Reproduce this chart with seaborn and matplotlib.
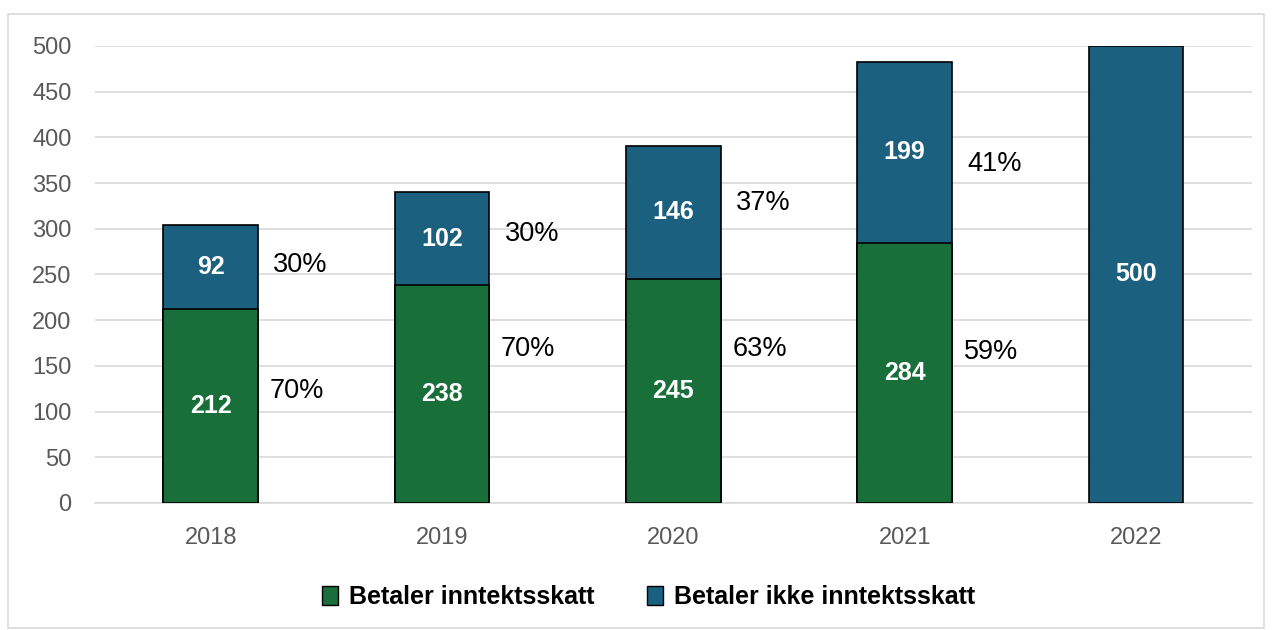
import matplotlib
matplotlib.use("Agg")
import matplotlib.pyplot as plt
import seaborn as sns
import pandas as pd
from matplotlib.patches import Rectangle, Patch

# Data
years = ["2018", "2019", "2020", "2021", "2022"]
betaler = [212, 238, 245, 284, 0]
betaler_ikke = [92, 102, 146, 199, 500]
# height (in data units) where the manual percentage labels sit
pct_y_betaler = [123, 168, 168, 165]
pct_y_ikke = [260, 294, 328, 371]

green = "#186f3a"
blue = "#1b607e"

sns.set_theme(style="white")
plt.rcParams["font.family"] = ["Liberation Sans", "DejaVu Sans"]

df = pd.DataFrame({"year": years, "betaler": betaler, "ikke": betaler_ikke})
df["total"] = df["betaler"] + df["ikke"]
df_green = df[df["betaler"] > 0]

fig = plt.figure(figsize=(12.72, 6.30), dpi=100)
ax = fig.add_axes([0.0747, 0.2016, 0.9093, 0.7254])

sns.barplot(data=df, x="year", y="total", order=years, color=blue, saturation=1,
            width=0.41, edgecolor="black", linewidth=1.2, ax=ax, zorder=3)
sns.barplot(data=df_green, x="year", y="betaler", order=years, color=green, saturation=1,
            width=0.41, edgecolor="black", linewidth=1.2, ax=ax, zorder=3)

ax.set_ylim(0, 500)
ax.set_xlim(-0.5, 4.5)
ax.set_yticks(range(0, 501, 50))
ax.yaxis.grid(True, color="#d9d9d9", linewidth=1.2, zorder=0)
ax.set_axisbelow(True)
for s in ["top", "right", "left"]:
    ax.spines[s].set_visible(False)
ax.spines["bottom"].set_color("#d9d9d9")
ax.spines["bottom"].set_linewidth(1.2)
ax.tick_params(axis="both", length=0, labelsize=17, labelcolor="#595959")
ax.tick_params(axis="x", pad=17)
ax.tick_params(axis="y", pad=17)
ax.set_xlabel("")
ax.set_ylabel("")

# value labels inside bars
for i, row in df.iterrows():
    if row["betaler"] > 0:
        ax.text(i, row["betaler"] / 2, str(row["betaler"]), ha="center", va="center",
                color="white", fontsize=18, fontweight="bold", zorder=5)
    ax.text(i, row["betaler"] + row["ikke"] / 2, str(row["ikke"]), ha="center", va="center",
            color="white", fontsize=18, fontweight="bold", zorder=5)

# percentage labels next to bars
for i in range(len(pct_y_betaler)):
    tot = betaler[i] + betaler_ikke[i]
    p1 = round(betaler[i] / tot * 100)
    p2 = 100 - p1
    ax.text(i + 0.255, pct_y_betaler[i], f"{p1}%", ha="left", va="center",
            color="black", fontsize=19.5, zorder=5)
    ax.text(i + 0.27, pct_y_ikke[i], f"{p2}%", ha="left", va="center",
            color="black", fontsize=19.5, zorder=5)

handles = [Patch(facecolor=green, edgecolor="black", linewidth=1),
           Patch(facecolor=blue, edgecolor="black", linewidth=1)]
fig.legend(handles, ["Betaler inntektsskatt", "Betaler ikke inntektsskatt"],
           loc="center", bbox_to_anchor=(0.51, 0.052), ncol=2, frameon=False,
           handlelength=0.64, handleheight=0.8, handletextpad=0.45, columnspacing=2.1,
           labelcolor="black",
           prop={"family": ["Liberation Sans"], "weight": "bold", "size": 18})

fig.patches.append(Rectangle((8 / 1272, 2 / 630), 1256 / 1272, 614 / 630,
                             transform=fig.transFigure, fill=False,
                             edgecolor="#d9d9d9", linewidth=1.2))

fig.savefig("out.png", dpi=100)
